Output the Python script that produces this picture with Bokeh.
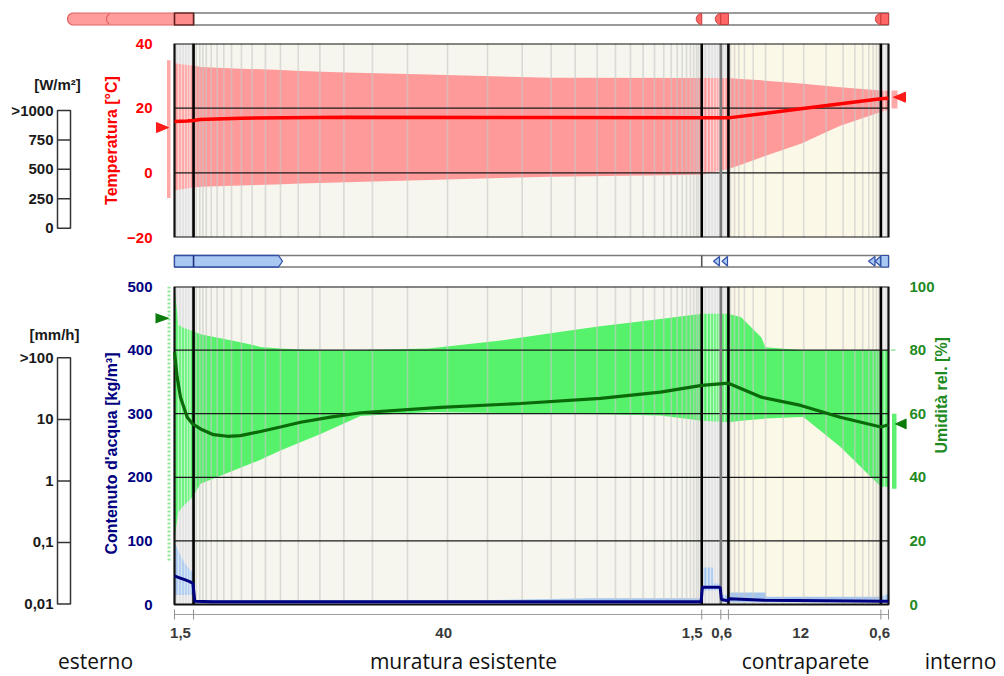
import numpy as np
from bokeh.plotting import figure
from bokeh.models import Range1d, LinearAxis, FixedTicker
from bokeh.layouts import column, row
from bokeh.embed import file_html
from bokeh.resources import INLINE
from bokeh.core.properties import value

# ------------------------------------------------------------------ data
layer_thickness_cm = [1.5, 40.0, 1.5, 0.6, 12.0, 0.6]
layer_labels = ["1,5", "40", "1,5", "0,6", "12", "0,6"]
zone_names = ["esterno", "muratura esistente", "contraparete", "interno"]

# numerical grid (mesh) positions [cm]
mesh_cm = [0.31, 0.55, 0.79, 1.02, 1.22,
           1.71, 1.99, 2.23, 2.50, 2.89, 3.36, 3.88, 4.49, 5.27, 6.11, 7.16, 8.34,
           9.74, 11.44, 13.33, 15.58, 18.34, 21.49, 24.64, 27.37, 29.65, 31.54,
           33.27, 34.71, 35.89, 36.89, 37.78, 38.51, 39.10, 39.57, 39.96, 40.30,
           40.61, 40.87, 41.09, 41.25,
           41.64, 41.93, 42.19, 42.43, 42.66, 42.86,
           43.30,
           43.76, 44.08, 44.42, 44.86, 45.55, 46.52, 47.91, 49.53, 51.29, 52.63,
           53.55, 54.17, 54.65, 54.99, 55.25, 55.45,
           55.88]

# temperature [°C]
temp_x = [0, 1.0, 1.5, 2.0, 5.2, 13.5, 30, 41.5, 43.6, 49.3, 55.6, 56.2]
temp_mean = [15.9, 16.0, 16.2, 16.5, 16.9, 17.2, 17.1, 17.0, 17.0, 19.8, 22.9, 23.1]
temp_band_x = [0, 0.7, 1.5, 2.05, 5.2, 7.95, 9.9, 13.5, 20, 25.7, 29.6, 41.5,
               43.6, 44.6, 46.2, 49.3, 52.4, 55.6, 56.2]
temp_max = [33.9, 33.5, 33.2, 32.7, 32.2, 31.9, 31.5, 31.0, 30.4, 29.8, 29.4, 29.3,
            29.3, 29.0, 28.6, 27.6, 26.5, 25.5, 25.3]
temp_min = [-5.5, -5.0, -4.5, -4.3, -3.9, -3.6, -3.3, -2.9, -2.2, -1.6, -1.2, -0.6,
            1.2, 2.5, 4.8, 9.0, 14.6, 18.8, 19.5]
temp_ext_range = [-7.8, 34.8]
temp_ext_mean = 14.0
temp_int_range = [19.9, 25.5]
temp_int_mean = 23.4

# relative humidity [%]
rh_x = [0, 0.21, 0.47, 1.0, 1.42, 2.05, 3.07, 4.17, 5.19, 6.77, 8.34, 9.92, 12.28,
        14.64, 20.94, 27.23, 33.53, 38.25, 41.5, 43.6, 46.2, 49.3, 52.4, 55.6, 56.2]
rh_mean = [79.3, 71.5, 65.2, 58.9, 56.8, 55.2, 53.4, 52.9, 53.1, 54.4, 55.8, 57.3,
           58.9, 60.3, 62.0, 63.2, 64.8, 66.8, 68.9, 69.6, 65.2, 62.6, 58.9, 55.8, 56.5]
rh_band_x = [0, 0.15, 0.3, 0.7, 1.42, 2.05, 5.19, 6.77, 8.34, 9.92, 11.5, 14.64, 20,
             25.7, 30, 33.5, 38.25, 41.5, 43.6, 44.6, 46.2, 46.5, 49.3, 49.5, 52.4,
             55.6, 56.2]
rh_max = [100, 94, 88, 87, 86, 85, 82.5, 81, 80.5, 80.2, 80, 80, 80.5, 83, 85.5, 87.5,
          89.8, 91.4, 91.4, 90.3, 84, 80.9, 80, 80, 80, 80, 80]
rh_min = [20, 25, 29, 31, 33.7, 38, 43, 45.5, 48.4, 51, 53.6, 59.3, 60.5, 60.2, 60,
          59.8, 59.4, 57.8, 57.3, 57.8, 58.3, 58.5, 59, 59, 49.6, 37, 37]
rh_ext_range = [13.8, 100]
rh_ext_mean = 90.0
rh_int_range = [36.4, 60.0]
rh_int_mean = 56.8
rh_int_mark = 80.0

# water content [kg/m³]
wc_x = [0, 0.4, 0.8, 1.2, 1.45, 1.6, 3, 20, 41.45, 41.55, 42.95, 43.05, 43.55,
        43.65, 46.5, 55.6, 56.2]
wc_mean = [45, 42, 39, 36, 33, 5, 4.5, 4.5, 4.5, 27, 27, 8, 6, 9, 6.5, 5, 5]
wc_band_x = [0, 0.4, 0.8, 1.2, 1.45, 1.55, 25, 33, 41.45, 41.55, 42.4, 42.45, 42.95,
             43.05, 43.55, 43.65, 46.5, 46.6, 55.5, 56.2]
wc_max = [98, 80, 65, 55, 50, 7, 7, 10, 10, 58, 58, 33, 33, 15, 15, 19, 19, 12, 12, 17]
wc_min = [15, 15, 15, 15, 15, 1, 1, 1, 1, 22, 22, 22, 22, 4, 4, 3, 3, 3, 3, 3]

temp_ticks = [-20, 0, 20, 40]
wc_ticks = [0, 100, 200, 300, 400, 500]
rh_ticks = [0, 20, 40, 60, 80, 100]
rad_ticks = [0, 250, 500, 750, 1000]
rad_tick_labels = ["0", "250", "500", "750", ">1000"]
rain_ticks = [0.01, 0.1, 1, 10, 100]
rain_tick_labels = ["0,01", "0,1", "1", "10", ">100"]

# ------------------------------------------------------------------ layout
W = 1004
PX_L, PX_R = 174.0, 888.0
bounds = np.concatenate([[0.0], np.cumsum(layer_thickness_cm)])
total = float(bounds[-1])
ppc = (PX_R - PX_L) / total


def cm_at(px):
    return (px - PX_L) / ppc


FONT = "Liberation Sans"
layer_fill = ["#e0e0e0", "#f6f6ee", "#e0e0e0", "#e0e0e0", "#fcf8e8", "#e4e4e4"]
grey_layer = [True, False, True, True, False, True]
inner_bounds = list(bounds[1:-1])
inner_colors = ["#000000", "#000000", "#7a7a7a", "#000000", "#000000"]
mesh_layer = np.searchsorted(bounds, mesh_cm) - 1
mesh_colors = ["#fafafa" if grey_layer[i] else "#c8c8c8" for i in mesh_layer]


def base_fig(w, h, xr, yr, **kw):
    p = figure(width=w, height=h, x_range=xr, y_range=yr, output_backend="svg",
               toolbar_location=None, **kw)
    p.outline_line_color = None
    p.grid.visible = False
    p.background_fill_color = "white"
    p.border_fill_color = "white"
    return p


def style_axis(ax, color, label, ticks):
    ax.ticker = FixedTicker(ticks=ticks)
    ax.axis_line_color = None
    ax.major_tick_line_color = None
    ax.minor_tick_line_color = None
    ax.major_tick_in = 0
    ax.major_tick_out = 0
    ax.minor_tick_in = 0
    ax.minor_tick_out = 0
    ax.major_label_standoff = 3
    ax.major_label_text_color = color
    ax.major_label_text_font = FONT
    ax.major_label_text_font_style = "bold"
    ax.major_label_text_font_size = "15px"
    ax.axis_label = label
    ax.axis_label_text_color = color
    ax.axis_label_text_font = FONT
    ax.axis_label_text_font_style = "bold"
    ax.axis_label_text_font_size = "16px"
    ax.axis_label_standoff = 4


def chart_body(p, ymin, ymax, yrn="default"):
    p.quad(left=bounds[:-1], right=bounds[1:], bottom=ymin, top=ymax,
           fill_color=layer_fill, line_color=None, y_range_name=yrn)


def chart_frame(p, ymin, ymax, hlines, yrn="default"):
    p.segment(x0=mesh_cm, x1=mesh_cm, y0=ymin, y1=ymax, line_color=mesh_colors,
              line_width=1.6, line_alpha=0.6, y_range_name=yrn)
    p.segment(x0=0, x1=total, y0=hlines, y1=hlines, line_color="#1a1a1a",
              line_width=1.2, y_range_name=yrn)
    p.segment(x0=inner_bounds, x1=inner_bounds, y0=ymin, y1=ymax,
              line_color=inner_colors, line_width=2.6, y_range_name=yrn)
    p.quad(left=0, right=total, bottom=ymin, top=ymax, fill_color=None,
           line_color="#111111", line_width=2.2, y_range_name=yrn)


def arrow(p, tip_px, base_px, yv, half_px, y_per_px, color, yrn="default"):
    xs = [cm_at(tip_px), cm_at(base_px), cm_at(base_px)]
    ys = [yv, yv + half_px * y_per_px, yv - half_px * y_per_px]
    p.patch(x=xs, y=ys, fill_color=color, line_color=color, y_range_name=yrn)


# ---------------- top strip (radiation) ----------------
s1 = base_fig(W, 35, Range1d(cm_at(0), cm_at(W)), Range1d(35, 0),
              min_border=0, x_axis_location=None, y_axis_location=None)
TOP, BOT = 12.5, 24.5
MID = (TOP + BOT) / 2
R = (BOT - TOP) / 2
a = np.linspace(np.pi / 2, 3 * np.pi / 2, 20)
ext_x = list(cm_at(73) + R * np.cos(a) / ppc) + [0, 0]
ext_y = list(MID - R * np.sin(a)) + [BOT, TOP]
s1.patch(x=ext_x, y=ext_y, fill_color="#ff9c9c", line_color="#e06464", line_width=1.2)
arc_a = np.linspace(np.radians(120), np.radians(240), 12)
s1.line(x=cm_at(112) + 6 * np.cos(arc_a) / ppc, y=MID - 6 * np.sin(arc_a),
        line_color="#e06464", line_width=1.2)
s1.quad(left=bounds[1], right=total, bottom=BOT, top=TOP, fill_color="white",
        line_color="#7a7a7a", line_width=1.6)
s1.quad(left=0, right=bounds[1], bottom=BOT, top=TOP, fill_color="#ff8c8c",
        line_color="#602020", line_width=1.6)
for b in [bounds[2], bounds[3], bounds[5]]:
    hx = list(b + (R - 0.5) * np.cos(a) / ppc)
    hy = list(MID - (R - 0.5) * np.sin(a))
    s1.patch(x=hx, y=hy, fill_color="#ff6666", line_color="#c83c3c", line_width=1)
s1.quad(left=[bounds[3], bounds[5]], right=[bounds[4], bounds[6]], bottom=BOT - 0.5,
        top=TOP + 0.5, fill_color="#ff6666", line_color="#c83c3c", line_width=1)

# ---------------- radiation scale ----------------
rad_upp = 1000 / (235 - 107.5)
rad = base_fig(100, 210, Range1d(0, 100),
               Range1d(-(245 - 235) * rad_upp, 1000 + (107.5 - 35) * rad_upp),
               min_border=0, x_axis_location=None, y_axis_location=None)
rad.quad(left=57, right=70, bottom=0, top=1000, fill_color="white",
         line_color="#333333", line_width=1.5)
rad.segment(x0=57, x1=70, y0=rad_ticks[1:-1], y1=rad_ticks[1:-1],
            line_color="#333333", line_width=1.5)
rad.text(x=53, y=rad_ticks, text=rad_tick_labels, text_align="right",
         text_baseline="middle", text_font=value(FONT), text_font_style="bold",
         text_font_size="15px", text_color="#1a1a1a")
rad.text(x=[57], y=[1000 + (107.5 - 79) * rad_upp], text=["[W/m²]"],
         text_align="center", text_baseline="middle", text_font=value(FONT),
         text_font_style="bold", text_font_size="15px", text_color="#1a1a1a")

# ---------------- temperature chart ----------------
t_per_px = 60 / 194
pt = base_fig(904, 210, Range1d(cm_at(155), cm_at(906)), Range1d(-20, 40),
              min_border_left=55, min_border_right=98, min_border_top=8,
              min_border_bottom=8, x_axis_location=None, y_axis_location="left")
style_axis(pt.yaxis[0], "#ff0000", "Temperatura [°C]", temp_ticks)
chart_body(pt, -20, 40)
pt.varea(x=temp_band_x, y1=temp_min, y2=temp_max, fill_color="#ff9a9a")
chart_frame(pt, -20, 40, [0, 20])
pt.line(x=temp_x, y=temp_mean, line_color="#ff0000", line_width=3.5)
pt.quad(left=cm_at(166.5), right=cm_at(170), bottom=temp_ext_range[0],
        top=temp_ext_range[1], fill_color="#ffa8a8", line_color=None)
arrow(pt, 168, 156, temp_ext_mean, 5, t_per_px, "#ff1a1a")
pt.quad(left=cm_at(891), right=cm_at(897), bottom=temp_int_range[0],
        top=temp_int_range[1], fill_color="#ffa8a8", line_color=None)
arrow(pt, 893, 905, temp_int_mean, 5, t_per_px, "#ff1a1a")

# ---------------- middle strip (rain) ----------------
s2 = base_fig(W, 31, Range1d(cm_at(0), cm_at(W)), Range1d(31, 0),
              min_border=0, x_axis_location=None, y_axis_location=None)
T2, B2 = 10.0, 21.5
M2 = (T2 + B2) / 2
s2.quad(left=0, right=total, bottom=B2, top=T2, fill_color="white",
        line_color="#7a7a7a", line_width=1.6)
s2.patch(x=[0, cm_at(278), cm_at(282), cm_at(278), 0], y=[T2, T2, M2, B2, B2],
         fill_color="#a9c9f2", line_color="#2f4fa8", line_width=1.3)
s2.segment(x0=[bounds[1], bounds[2]], x1=[bounds[1], bounds[2]], y0=T2, y1=B2,
           line_color=["#1f2f80", "#555555"], line_width=1.6)
chev_tip = [713, 721.5, 868, 874.5]
chev_base = [719, 727, 874.5, 880]
for tp, bs in zip(chev_tip, chev_base):
    s2.patch(x=[cm_at(tp), cm_at(bs), cm_at(bs)], y=[M2, T2 + 1, B2 - 1],
             fill_color="#a9c9f2", line_color="#2f4fa8", line_width=1.2)
s2.quad(left=bounds[5], right=bounds[6], bottom=B2, top=T2, fill_color="#a9c9f2",
        line_color="#2f4fa8", line_width=1.2)

# ---------------- rain scale ----------------
dec_px = (603 - 349.5) / 4
rain = base_fig(100, 344, Range1d(0, 100),
                Range1d(0.01 / 10 ** ((620 - 603) / dec_px),
                        100 * 10 ** ((349.5 - 276) / dec_px)),
                y_axis_type="log", min_border=0, x_axis_location=None,
                y_axis_location=None)
rain.quad(left=57, right=70, bottom=0.01, top=100, fill_color="white",
          line_color="#333333", line_width=1.5)
rain.segment(x0=57, x1=70, y0=rain_ticks[1:-1], y1=rain_ticks[1:-1],
             line_color="#333333", line_width=1.5)
rain.text(x=53, y=rain_ticks, text=rain_tick_labels, text_align="right",
          text_baseline="middle", text_font=value(FONT), text_font_style="bold",
          text_font_size="15px", text_color="#1a1a1a")
rain.text(x=[54], y=[100 * 10 ** ((349.5 - 325) / dec_px)], text=["[mm/h]"],
          text_align="center", text_baseline="middle", text_font=value(FONT),
          text_font_style="bold", text_font_size="15px", text_color="#1a1a1a")

# ---------------- moisture chart ----------------
wc_per_px = 500 / 318
rh_per_px = 100 / 318
pw = base_fig(904, 344, Range1d(cm_at(155), cm_at(906)),
              Range1d(-16 * wc_per_px, 500),
              min_border_left=55, min_border_right=98, min_border_top=10,
              min_border_bottom=0, x_axis_location=None, y_axis_location="left")
pw.extra_y_ranges = {"rh": Range1d(-16 * rh_per_px, 100)}
style_axis(pw.yaxis[0], "#000080", "Contenuto d'acqua [kg/m³]", wc_ticks)
rax = LinearAxis(y_range_name="rh")
style_axis(rax, "#1f8a1f", "Umidità rel. [%]", rh_ticks)
try:
    rax.axis_label_orientation = np.pi / 2
except Exception:
    pass
pw.add_layout(rax, "right")

chart_body(pw, 0, 500)
pw.varea(x=rh_band_x, y1=rh_min, y2=rh_max, fill_color="#57f26b", y_range_name="rh")
pw.varea(x=wc_band_x, y1=wc_min, y2=wc_max, fill_color="#a6c6ee")
chart_frame(pw, 0, 500, wc_ticks[1:-1])
pw.line(x=rh_x, y=rh_mean, line_color="#0a6a0a", line_width=3.2, y_range_name="rh")
pw.line(x=wc_x, y=wc_mean, line_color="#000080", line_width=3)
pw.segment(x0=cm_at(168.5), x1=cm_at(168.5), y0=rh_ext_range[0], y1=rh_ext_range[1],
           line_color="#8fe896", line_width=3, line_dash="2 2", y_range_name="rh")
arrow(pw, 168, 154, rh_ext_mean, 5, rh_per_px, "#0a7a0a", "rh")
pw.quad(left=cm_at(891.5), right=cm_at(896), bottom=rh_int_range[0],
        top=rh_int_range[1], fill_color="#5cf070", line_color=None, y_range_name="rh")
pw.segment(x0=cm_at(890.5), x1=cm_at(895), y0=rh_int_mark, y1=rh_int_mark,
           line_color="#7fe08a", line_width=1.2, y_range_name="rh")
arrow(pw, 895, 906, rh_int_mean, 5, rh_per_px, "#0a7a0a", "rh")
# dimension line below the chart
dim_y = -(614 - 604) * wc_per_px
pw.segment(x0=0, x1=total, y0=dim_y, y1=dim_y, line_color="#a0a0a0", line_width=1)
pw.segment(x0=list(bounds), x1=list(bounds), y0=-(609 - 604) * wc_per_px,
           y1=-(619 - 604) * wc_per_px, line_color="#909090", line_width=1)

# ---------------- labels below ----------------
lb = base_fig(W, 56, Range1d(cm_at(0), cm_at(W)), Range1d(56, 0),
              min_border=0, x_axis_location=None, y_axis_location=None)
centers = (bounds[:-1] + bounds[1:]) / 2
label_shift_px = [-3.5, -4, -19, -3, -4, -5]
lx = [c + s / ppc for c, s in zip(centers, label_shift_px)]
lb.text(x=lx, y=12, text=layer_labels, text_align="center", text_baseline="middle",
        text_font=value(FONT), text_font_style="bold", text_font_size="15px",
        text_color="#3a3a3a")
zone_px = [95, 463, 805, 960]
lb.text(x=[cm_at(v) for v in zone_px], y=40, text=zone_names, text_align="center",
        text_baseline="middle", text_font=value("Open Sans"), text_font_size="21px",
        text_color="#111111")

layout = column(s1, row(rad, pt), s2, row(rain, pw), lb)
open("out.html", "w").write(file_html(layout, INLINE))
